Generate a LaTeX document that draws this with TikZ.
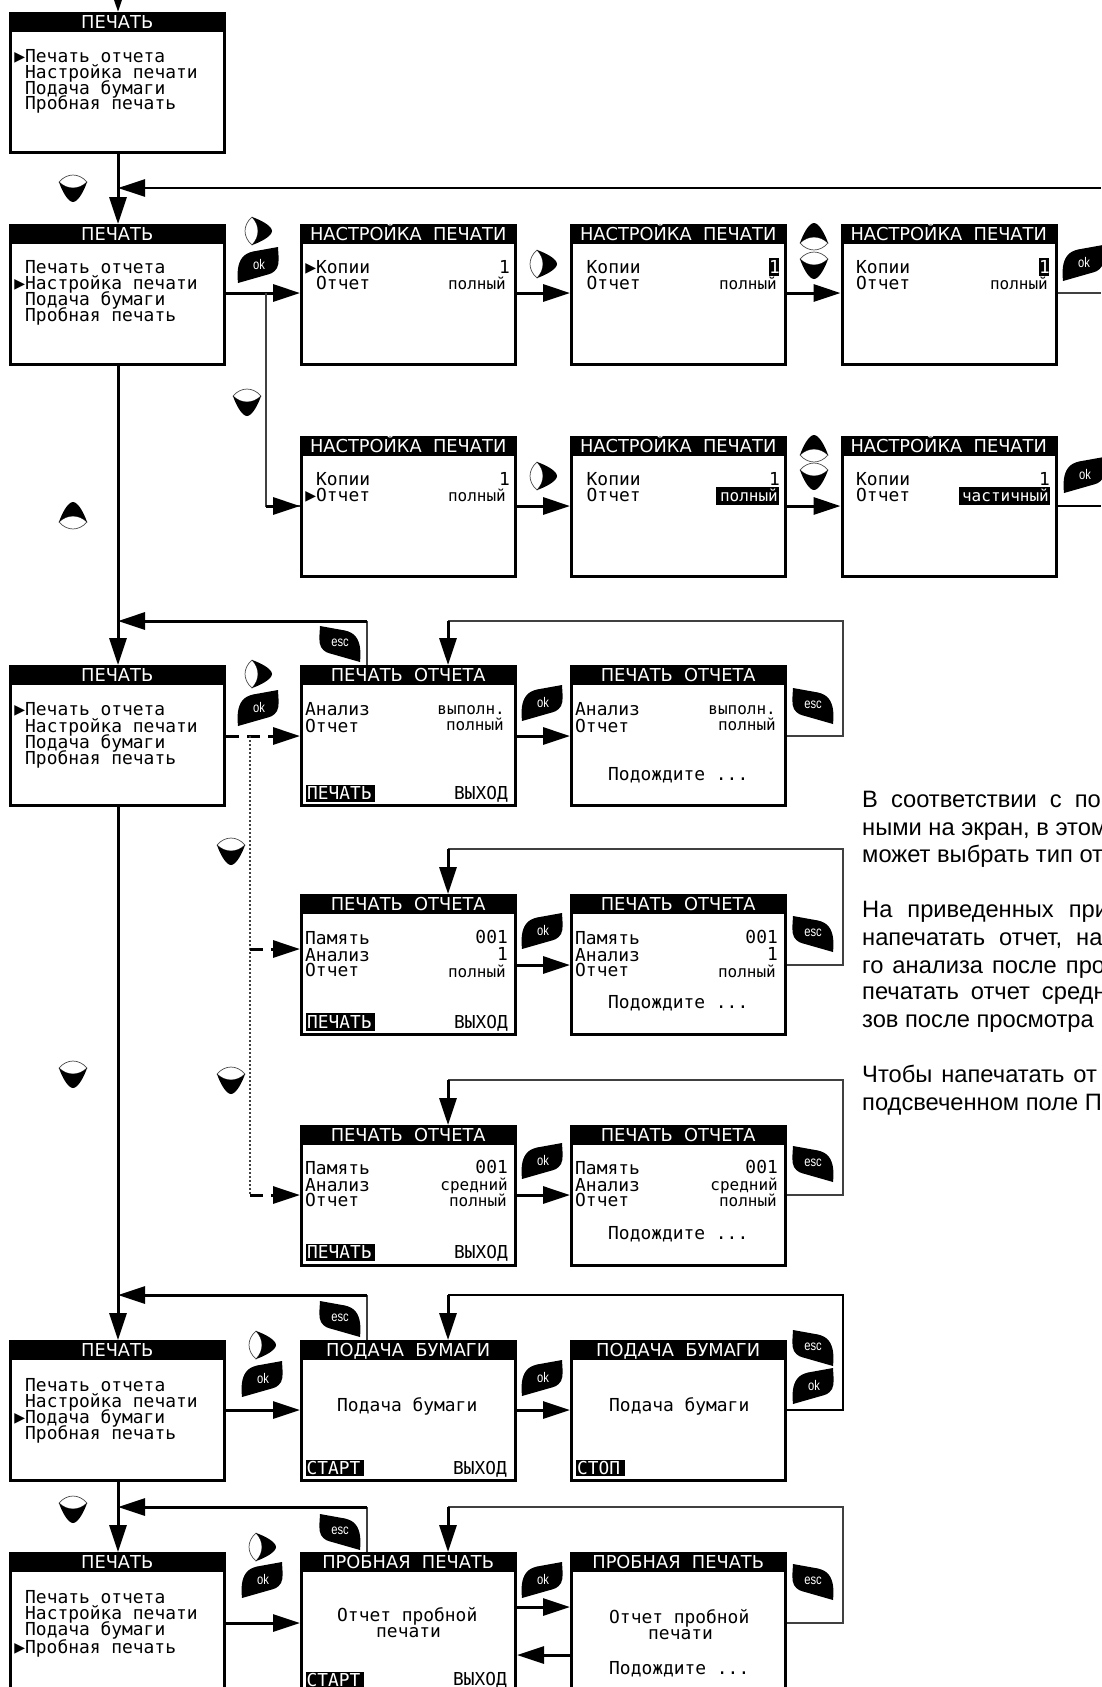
\documentclass[tikz,border=0pt]{standalone}
\usepackage{fontspec}
\usetikzlibrary{arrows.meta}
\setmainfont{Liberation Sans}
\newfontfamily\scrfont{DejaVu Sans Mono}
\newfontfamily\headfont{DejaVu Sans}
\newfontfamily\keyfont[FakeStretch=0.8]{Liberation Sans}
\newcounter{nid}
\tikzset{
  x=1pt,y=-1pt,
  screen/.style={draw=black,line width=3pt,fill=white,minimum width=214pt,minimum height=139pt,inner sep=0pt},
  titlebar/.style={fill=black,text=white,inner sep=0pt,minimum width=216pt,minimum height=20pt,text height=13pt,text depth=1pt,font=\headfont\fontsize{17.8pt}{20pt}\selectfont,anchor=north west},
  mtext/.style={inner sep=0pt,font=\scrfont\fontsize{17.9pt}{18pt}\selectfont},
  vtext/.style={inner sep=0pt,font=\scrfont\fontsize{16pt}{18pt}\selectfont},
  btext/.style={inner sep=0pt,font=\scrfont\fontsize{17.8pt}{18pt}\selectfont},
  ptext/.style={inner sep=0pt,anchor=base west,font=\fontsize{23.7pt}{28pt}\selectfont},
  keytext/.style={inner sep=0pt,text=white,font=\keyfont\fontsize{14pt}{15pt}\selectfont},
  conn/.style={line width=3pt,-{Triangle[length=27pt,width=17pt]}},
  thinconn/.style={line width=1.4pt,draw=black!75},
  dashconn/.style={line width=3pt,dash pattern=on 13pt off 8pt,-{Triangle[length=27pt,width=17pt]}},
  dotconn/.style={line width=1.4pt,dash pattern=on 2pt off 2pt,draw=black!75},
  navwhite/.style={fill=white,draw=black!70,line width=0.7pt},
  navkey/.pic={
    \path[navwhite] (-14,-6) .. controls (-6,-15.3) and (6,-15.3) .. (14,-6) .. controls (6,2) and (-6,2) .. cycle;
    \fill[black] (-14,-6) .. controls (-6,2) and (6,2) .. (14,-6) .. controls (11,3) and (5,14) .. (0,14) .. controls (-5,14) and (-11,3) .. cycle;
  },
  softkey/.pic={
    \fill[black] (-20,18) .. controls (-21,8) and (-20.5,-1) .. (-16,-7) .. controls (-13,-11) and (-9,-12.5) .. (-5,-13.5) -- (20,-18) .. controls (20.5,-8) and (21.5,-2) .. (19,3) .. controls (16,8) and (12,9) .. (8,10) -- cycle;
  },
}
\newcommand{\screen}[4]{%
  \node[screen] (#1) at (#2+108.5,#3+71) {};
  \node[titlebar] (#1t) at (#2,#3) {#4};
}
\newcommand{\lt}[4][mtext]{\stepcounter{nid}\node[#1,anchor=base west] (n\arabic{nid}) at (#2,#3) {#4};}
\newcommand{\rt}[4][vtext]{\stepcounter{nid}\node[#1,anchor=base east] (n\arabic{nid}) at (#2,#3) {#4};}
\newcommand{\hlbox}[4]{\fill[black] (#1,#2) rectangle (#3,#4);}
\newcommand{\para}[3]{\stepcounter{nid}\node[ptext] (n\arabic{nid}) at (862,#1) {\spaceskip=#2pt\relax #3};}
\newcommand{\okkey}[2]{\pic at (#1,#2) {softkey};\stepcounter{nid}\node[keytext] (n\arabic{nid}) at (#1+1,#2-1) {ok};}
\newcommand{\esckey}[2]{\pic[xscale=-1] at (#1,#2+2) {softkey};\stepcounter{nid}\node[keytext] (n\arabic{nid}) at (#1,#2+1) {esc};}
\newcommand{\dnkey}[2]{\pic at (#1,#2) {navkey};}
\newcommand{\upkey}[2]{\pic[rotate=180] at (#1,#2) {navkey};}
\newcommand{\rkey}[2]{\pic[rotate=90] at (#1,#2) {navkey};}
\begin{document}
\begin{tikzpicture}
\useasboundingbox[fill=white] (0,0) rectangle (1101,1687);
% screens
\screen{a1}{9}{12}{ПЕЧАТЬ}
\screen{b1}{9}{224}{ПЕЧАТЬ}
\screen{b2}{300}{224}{НАСТРОЙКА\ \ ПЕЧАТИ}
\screen{b3}{570}{224}{НАСТРОЙКА\ \ ПЕЧАТИ}
\screen{b4}{840.5}{224}{НАСТРОЙКА\ \ ПЕЧАТИ}
\screen{c2}{300}{436}{НАСТРОЙКА\ \ ПЕЧАТИ}
\screen{c3}{570}{436}{НАСТРОЙКА\ \ ПЕЧАТИ}
\screen{c4}{840.5}{436}{НАСТРОЙКА\ \ ПЕЧАТИ}
\screen{d1}{9}{665}{ПЕЧАТЬ}
\screen{d2}{300}{665}{ПЕЧАТЬ\ \ ОТЧЕТА}
\screen{d3}{570}{665}{ПЕЧАТЬ\ \ ОТЧЕТА}
\screen{e2}{300}{894}{ПЕЧАТЬ\ \ ОТЧЕТА}
\screen{e3}{570}{894}{ПЕЧАТЬ\ \ ОТЧЕТА}
\screen{f2}{300}{1125}{ПЕЧАТЬ\ \ ОТЧЕТА}
\screen{f3}{570}{1125}{ПЕЧАТЬ\ \ ОТЧЕТА}
\screen{g1}{9}{1340}{ПЕЧАТЬ}
\screen{g2}{300}{1340}{ПОДАЧА\ \ БУМАГИ}
\screen{g3}{570}{1340}{ПОДАЧА\ \ БУМАГИ}
\screen{h1}{9}{1552}{ПЕЧАТЬ}
\screen{h2}{300}{1552}{ПРОБНАЯ\ \ ПЕЧАТЬ}
\screen{h3}{570}{1552}{ПРОБНАЯ\ \ ПЕЧАТЬ}
% row coordinates
\coordinate (topin) at (118,-14);
\coordinate (rtopfb) at (1101,188);
\coordinate (jfb) at (118,188);
\coordinate (ryb) at (0,293);
\coordinate (ryc) at (0,506);
\coordinate (edgeb) at (1101,293);
\coordinate (edgec) at (1101,506);
\coordinate (bend) at (266,293);
\coordinate (benddn) at (266,506);
\coordinate (ryd) at (0,736);
\coordinate (rye) at (0,949);
\coordinate (rye2) at (0,965);
\coordinate (ryf) at (0,1195);
\coordinate (ryg) at (0,1410);
\coordinate (rytop) at (0,621);
\coordinate (ryh) at (0,1623);
\coordinate (ryh2) at (0,1607);
\coordinate (ryh3) at (0,1655);
\coordinate (xesc) at (367,0);
\coordinate (xloop) at (448,0);
\coordinate (xright) at (843,0);
\coordinate (xdot) at (250,0);
\coordinate (rye3) at (0,849);
\coordinate (ryf3) at (0,1080);
\coordinate (ryg3) at (0,1295);
\coordinate (ryh4) at (0,1507);
\coordinate (main) at (118,0);
% main vertical flow
\draw[conn] (topin) -- (a1t.north -| main);
\draw[conn] (a1.south -| main) -- (b1t.north -| main);
\draw[conn] (b1.south -| main) -- (d1t.north -| main);
\draw[conn] (d1.south -| main) -- (g1t.north -| main);
\draw[conn] (g1.south -| main) -- (h1t.north -| main);
\draw[conn,line width=2.6pt] (rtopfb) -- (jfb);
% settings rows
\draw[conn] (b1.east |- ryb) -- (b2.west |- ryb);
\draw[conn] (b2.east |- ryb) -- (b3.west |- ryb);
\draw[conn] (b3.east |- ryb) -- (b4.west |- ryb);
\draw[thinconn] (b4.east |- ryb) -- (edgeb);
\draw[thinconn] (bend) -- (benddn) -- (c2.west |- ryc);
\draw[conn] (benddn) -- (c2.west |- ryc);
\draw[conn] (c2.east |- ryc) -- (c3.west |- ryc);
\draw[conn] (c3.east |- ryc) -- (c4.west |- ryc);
\draw[thinconn,draw=black] (c4.east |- ryc) -- (edgec);
% report rows
\draw[dashconn] (d1.east |- ryd) -- (d2.west |- ryd);
\draw[conn] (d2.east |- ryd) -- (d3.west |- ryd);
\draw[dotconn] (xdot |- ryd) -- (xdot |- ryf);
\draw[dashconn] (xdot |- rye) -- (e2.west |- rye);
\draw[dashconn] (xdot |- ryf) -- (f2.west |- ryf);
\draw[conn] (e2.east |- rye2) -- (e3.west |- rye2);
\draw[conn] (f2.east |- ryf) -- (f3.west |- ryf);
% return to main
\draw[thinconn] (d2t.north -| xesc) -- (xesc |- rytop);
\draw[conn] (xesc |- rytop) -- (main |- rytop);
\draw[thinconn] (g2t.north -| xesc) -- (xesc |- ryg3);
\draw[conn] (xesc |- ryg3) -- (main |- ryg3);
\draw[thinconn] (h2t.north -| xesc) -- (xesc |- ryh4);
\draw[conn] (xesc |- ryh4) -- (main |- ryh4);
% loops
\draw[thinconn] (d3.east |- ryd) -- (xright |- ryd) -- (xright |- rytop) -- (xloop |- rytop);
\draw[conn] (xloop |- rytop) -- (d2t.north -| xloop);
\draw[thinconn] (e3.east |- rye2) -- (xright |- rye2) -- (xright |- rye3) -- (xloop |- rye3);
\draw[conn] (xloop |- rye3) -- (e2t.north -| xloop);
\draw[thinconn] (f3.east |- ryf) -- (xright |- ryf) -- (xright |- ryf3) -- (xloop |- ryf3);
\draw[conn] (xloop |- ryf3) -- (f2t.north -| xloop);
\draw[thinconn,draw=black] (g3.east |- ryg) -- (xright |- ryg) -- (xright |- ryg3) -- (xloop |- ryg3);
\draw[conn] (xloop |- ryg3) -- (g2t.north -| xloop);
\draw[thinconn] (h3.east |- ryh) -- (xright |- ryh) -- (xright |- ryh4) -- (xloop |- ryh4);
\draw[conn] (xloop |- ryh4) -- (h2t.north -| xloop);
% feed rows
\draw[conn] (g1.east |- ryg) -- (g2.west |- ryg);
\draw[conn] (g2.east |- ryg) -- (g3.west |- ryg);
\draw[conn] (h1.east |- ryh) -- (h2.west |- ryh);
\draw[conn] (h2.east |- ryh2) -- (h3.west |- ryh2);
\draw[conn] (h3.west |- ryh3) -- (h2.east |- ryh3);
% menu texts
\lt{14.2}{62}{▶Печать отчета}
\lt{25}{78}{Настройка печати}
\lt{25}{94}{Подача бумаги}
\lt{25}{109}{Пробная печать}
\lt{25}{273}{Печать отчета}
\lt{14.2}{289}{▶Настройка печати}
\lt{25}{305}{Подача бумаги}
\lt{25}{321}{Пробная печать}
\lt{14.2}{715}{▶Печать отчета}
\lt{25}{732}{Настройка печати}
\lt{25}{748}{Подача бумаги}
\lt{25}{764}{Пробная печать}
\lt{25}{1391}{Печать отчета}
\lt{25}{1407}{Настройка печати}
\lt{14.2}{1423}{▶Подача бумаги}
\lt{25}{1439}{Пробная печать}
\lt{25}{1603}{Печать отчета}
\lt{25}{1619}{Настройка печати}
\lt{25}{1635}{Подача бумаги}
\lt{14.2}{1653}{▶Пробная печать}
% settings texts
\lt{305.2}{273}{▶Копии}
\lt{316}{289}{Отчет}
\rt[mtext]{510}{273}{1}
\rt{506}{289}{полный}
\hlbox{769}{258}{779}{276}
\lt{586.5}{273}{Копии}
\lt{586.5}{289}{Отчет}
\rt[mtext,text=white]{780}{273}{1}
\rt{777}{289}{полный}
\hlbox{1039}{258}{1049}{276}
\lt{856}{273}{Копии}
\lt{856}{289}{Отчет}
\rt[mtext,text=white]{1050}{273}{1}
\rt{1048}{289}{полный}
\lt{316}{485}{Копии}
\lt{305.2}{501}{▶Отчет}
\rt[mtext]{510}{485}{1}
\rt{506}{501}{полный}
\lt{586.5}{485}{Копии}
\lt{586.5}{501}{Отчет}
\rt[mtext]{780}{485}{1}
\hlbox{716}{487}{779}{505}
\rt[vtext,text=white]{778}{501}{полный}
\lt{856}{485}{Копии}
\lt{856}{501}{Отчет}
\rt[mtext]{1050}{485}{1}
\hlbox{958.5}{487}{1050}{505}
\rt[vtext,text=white]{1049}{501}{частичный}
% report D
\lt{305}{715}{Анализ}
\lt{305}{732}{Отчет}
\rt{505}{714}{выполн.}
\rt{504}{730}{полный}
\hlbox{306}{785}{375}{802}
\lt[btext,text=white]{307}{799}{ПЕЧАТЬ}
\rt[btext]{508}{799}{ВЫХОД}
\lt{575}{715}{Анализ}
\lt{575}{732}{Отчет}
\rt{776}{714}{выполн.}
\rt{776}{730}{полный}
\lt{608}{780}{Подождите ...}
% report E
\lt{305}{944}{Память}
\lt{305}{961}{Анализ}
\lt{305}{976}{Отчет}
\rt[mtext]{508}{943}{001}
\rt[mtext]{508}{960}{1}
\rt{506}{977}{полный}
\hlbox{306}{1013}{375}{1031}
\lt[btext,text=white]{307}{1028}{ПЕЧАТЬ}
\rt[btext]{508}{1028}{ВЫХОД}
\lt{575}{944}{Память}
\lt{575}{961}{Анализ}
\lt{575}{976}{Отчет}
\rt[mtext]{778}{943}{001}
\rt[mtext]{778}{960}{1}
\rt{776}{977}{полный}
\lt{608}{1008}{Подождите ...}
% report F
\lt{305}{1174}{Память}
\lt{305}{1191}{Анализ}
\lt{305}{1206}{Отчет}
\rt[mtext]{508}{1173}{001}
\rt{508}{1190}{средний}
\rt{507}{1206}{полный}
\hlbox{306}{1244}{375}{1261}
\lt[btext,text=white]{307}{1258}{ПЕЧАТЬ}
\rt[btext]{508}{1258}{ВЫХОД}
\lt{575}{1174}{Память}
\lt{575}{1191}{Анализ}
\lt{575}{1206}{Отчет}
\rt[mtext]{778}{1173}{001}
\rt{778}{1190}{средний}
\rt{777}{1206}{полный}
\lt{608}{1239}{Подождите ...}
% feed G
\lt{337}{1411}{Подача бумаги}
\hlbox{305.5}{1460}{364}{1476}
\lt[btext,text=white]{306.5}{1474}{СТАРТ}
\rt[btext]{507}{1474}{ВЫХОД}
\lt{609}{1411}{Подача бумаги}
\hlbox{576}{1460}{625}{1476}
\lt[btext,text=white]{577}{1474}{СТОП}
% test H
\lt{337}{1621}{Отчет пробной}
\lt{376}{1637}{печати}
\hlbox{305.5}{1672}{364}{1687}
\lt[btext,text=white]{306.5}{1686}{СТАРТ}
\rt[btext]{507}{1685}{ВЫХОД}
\lt{609}{1623}{Отчет пробной}
\lt{648}{1639}{печати}
\lt{609}{1674}{Подождите ...}
% keys
\dnkey{73}{188}
\rkey{258}{231}
\okkey{258}{265}
\rkey{543}{264}
\upkey{814}{237}
\dnkey{814}{265}
\okkey{1083}{263}
\dnkey{247}{402}
\rkey{543}{476}
\upkey{814}{449}
\dnkey{814}{476}
\okkey{1084}{475}
\upkey{73}{516}
\esckey{340}{642}
\rkey{258}{674}
\okkey{258}{708}
\okkey{542}{703}
\esckey{813}{704}
\dnkey{231}{851}
\okkey{542}{931}
\esckey{813}{932}
\dnkey{73}{1074}
\dnkey{231}{1080}
\okkey{542}{1161}
\esckey{813}{1162}
\esckey{340}{1317}
\rkey{262}{1345}
\okkey{262}{1379}
\okkey{542}{1378}
\esckey{813}{1346}
\okkey{813}{1386}
\dnkey{73}{1509}
\esckey{340}{1530}
\rkey{262}{1547}
\okkey{262}{1580}
\okkey{542}{1580}
\esckey{813}{1580}
% paragraphs
\para{807}{13}{В соответствии с по}
\para{835}{6.6}{ными на экран, в этом}
\para{862}{6.6}{может выбрать тип от}
\para{917}{15}{На приведенных при}
\para{945}{14}{напечатать отчет, на}
\para{973}{9}{го анализа после про}
\para{999}{12}{печатать отчет средн}
\para{1027}{6.6}{зов после просмотра}
\para{1082}{9}{Чтобы напечатать от}
\para{1110}{6.6}{подсвеченном поле П}
\end{tikzpicture}
\end{document}
